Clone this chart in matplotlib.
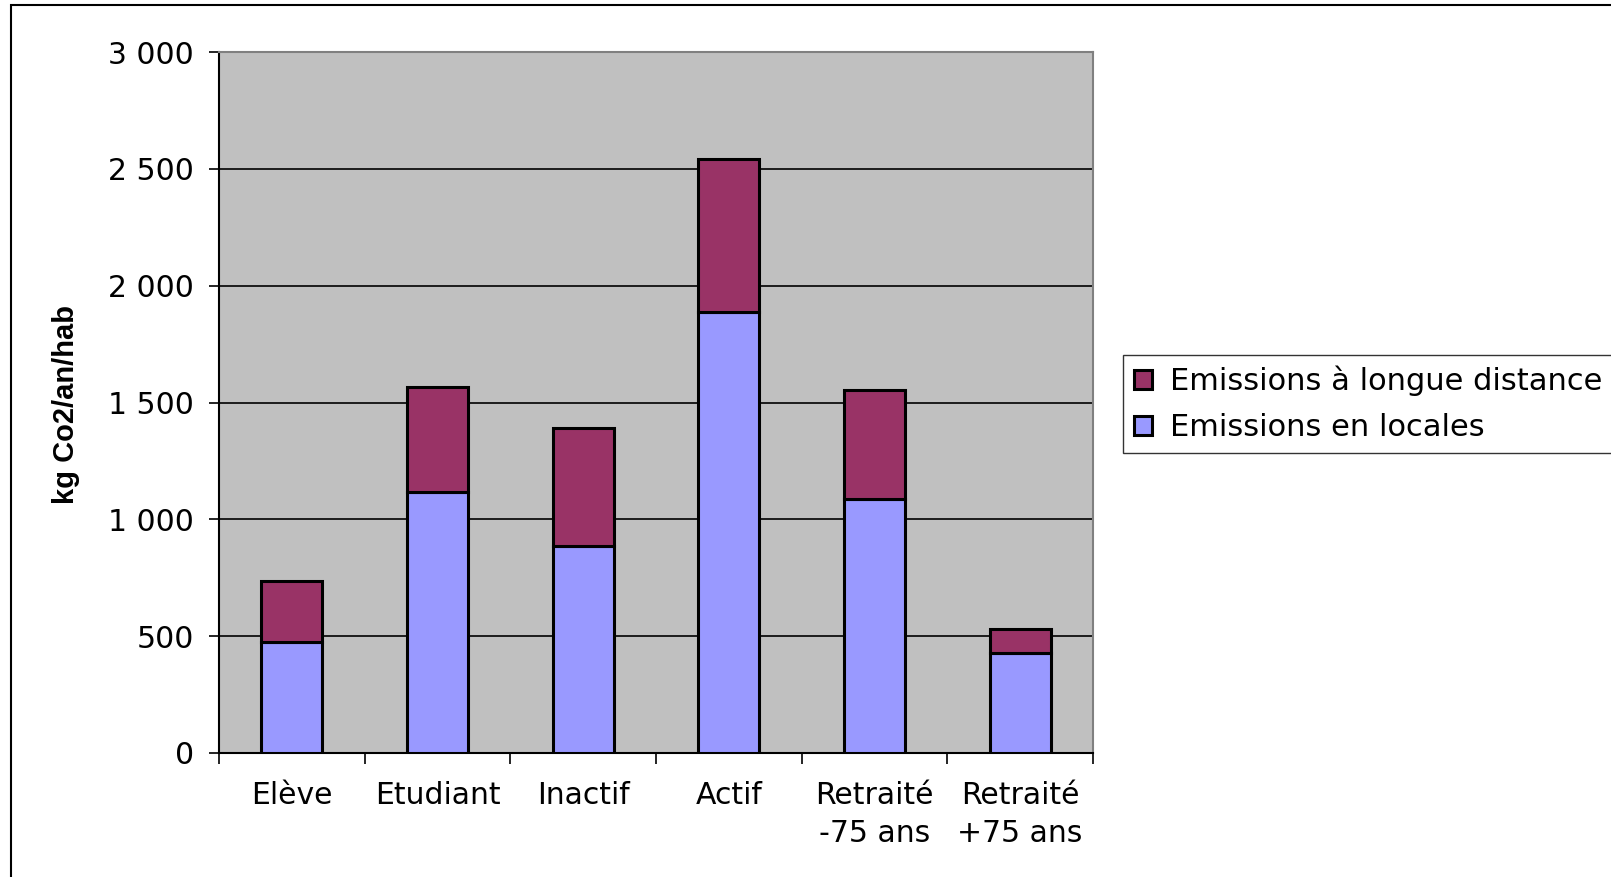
import numpy as np
import matplotlib
matplotlib.use("Agg")
import matplotlib.pyplot as plt
from matplotlib.patches import Rectangle

plt.rcParams['font.family'] = ['DejaVu Sans']

# données
categories = ["Elève", "Etudiant", "Inactif", "Actif", "Retraité\n-75 ans", "Retraité\n+75 ans"]
locales = [475, 1115, 886, 1888, 1085, 430]
longue_distance = [260, 452, 507, 652, 470, 101]
yticks = [0, 500, 1000, 1500, 2000, 2500, 3000]
yticklabels = ["0", "500", "1 000", "1 500", "2 000", "2 500", "3 000"]

W, H = 1611, 877
fig = plt.figure(figsize=(W / 100, H / 100), dpi=100)
ax = fig.add_axes([219 / W, 1 - 753 / H, (1093 - 219) / W, (753 - 52) / H])

x = np.arange(len(categories))
b1 = ax.bar(x, locales, width=0.42, color="#9999FF", edgecolor="black", linewidth=2.2,
            label="Emissions en locales", zorder=3)
b2 = ax.bar(x, longue_distance, width=0.42, bottom=locales, color="#993366",
            edgecolor="black", linewidth=2.2, label="Emissions à longue distance", zorder=3)

ax.set_facecolor("#C0C0C0")
ax.set_xlim(-0.5, len(categories) - 0.5)
ax.set_ylim(0, 3000)
ax.set_yticks(yticks)
ax.set_yticklabels(yticklabels, fontsize=21.5)
ax.yaxis.grid(True, color="black", linewidth=1.2, zorder=0)
ax.set_axisbelow(True)

ax.set_xticks(x)
ax.set_xticklabels(categories, fontsize=21.5, linespacing=1.42)
ax.tick_params(axis="x", which="major", length=0, pad=20)
ax.set_xticks(np.arange(-0.5, len(categories)), minor=True)
ax.tick_params(axis="x", which="minor", length=8, width=1.2, color="black")
ax.tick_params(axis="y", length=7, width=1.2, pad=11)

for s in ax.spines.values():
    s.set_color("#808080")
    s.set_linewidth(1.5)
ax.spines["left"].set_color("black")
ax.spines["bottom"].set_color("black")

# titre de l'axe y
fig.text(66 / W, 1 - 404 / H, "kg Co2/an/hab", rotation=90, ha="center", va="center",
         fontsize=21, fontweight="bold", family="Liberation Sans")

leg = ax.legend(handles=[b2, b1], loc="upper left", bbox_to_anchor=(1123 / W, 1 - 355 / H),
                bbox_transform=fig.transFigure, fontsize=22, frameon=True, fancybox=False,
                handlelength=0.6, handleheight=0.6, handletextpad=0.6, borderpad=0.35,
                labelspacing=0.55, borderaxespad=0)
leg.get_frame().set_edgecolor("black")
leg.get_frame().set_linewidth(1.0)

# cadre extérieur
fig.patches.append(Rectangle((11 / W, -0.1), 1.2, 1 - 5 / H + 0.1, transform=fig.transFigure,
                             fill=False, edgecolor="black", linewidth=1.5))

fig.savefig("out.png", dpi=100)
